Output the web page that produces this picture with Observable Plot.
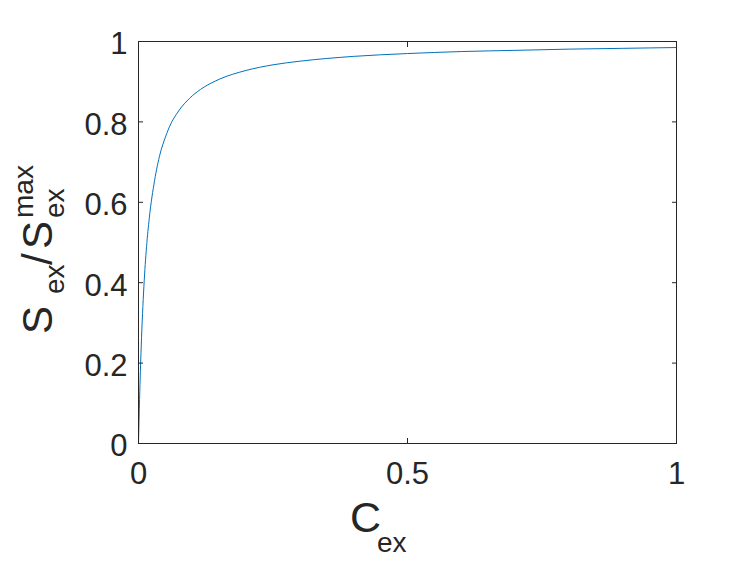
<!DOCTYPE html>
<html><head><meta charset="utf-8">
<script src="https://cdn.jsdelivr.net/npm/d3@7"></script>
<script src="https://cdn.jsdelivr.net/npm/@observablehq/plot@0.6"></script>
<style>html,body{margin:0;padding:0;background:#fff}#chart svg{display:block}</style>
</head><body><div id="chart"></div>
<script>
// Values
const cex    = [0, 0.002, 0.005, 0.01, 0.015, 0.02, 0.03, 0.04, 0.05, 0.06, 0.07, 0.08, 0.09, 0.1, 0.12, 0.15, 0.2, 0.25, 0.3, 0.4, 0.5, 0.6, 0.7, 0.8, 0.9, 1.0];
const sRatio = [0, 0.11, 0.24, 0.39, 0.49, 0.56, 0.655, 0.72, 0.762, 0.795, 0.818, 0.837, 0.852, 0.865, 0.885, 0.906, 0.928, 0.942, 0.951, 0.963, 0.970, 0.975, 0.978, 0.981, 0.983, 0.985];
const xTicks = [0, 0.5, 1];
const yTicks = [0, 0.2, 0.4, 0.6, 0.8, 1];

const data = cex.map((c, i) => ({c, s: sRatio[i]}));
const axisColor = "#262626";
const font = '"Liberation Sans", Arial, Helvetica, sans-serif';

const plot = Plot.plot({
  width: 747, height: 561,
  marginLeft: 138, marginRight: 71, marginTop: 41, marginBottom: 118,
  style: {fontFamily: font, background: "#fff", color: axisColor, fontSize: "31px"},
  x: {domain: [0, 1]},
  y: {domain: [0, 1]},
  marks: [
    Plot.line(data, {x: "c", y: "s", stroke: "#0072BD", strokeWidth: 1, curve: "monotone-x"}),
    Plot.frame({stroke: axisColor, strokeWidth: 1}),
    Plot.axisX(xTicks, {anchor: "bottom", tickSize: -5, fill: "none", label: null, stroke: axisColor}),
    Plot.axisX(xTicks, {anchor: "top", tickSize: -5, fill: "none", label: null, stroke: axisColor}),
    Plot.axisY(yTicks, {anchor: "left", tickSize: -5, fill: "none", label: null, stroke: axisColor}),
    Plot.axisY(yTicks, {anchor: "right", tickSize: -5, fill: "none", label: null, stroke: axisColor}),
    Plot.axisX(xTicks, {anchor: "bottom", tickSize: 0, tickPadding: 18, label: null, fontSize: 31, fill: axisColor, stroke: "none", fontWeight: "normal", tickFormat: d => String(d)}),
    Plot.axisY(yTicks, {anchor: "left", tickSize: 0, tickPadding: 11, dy: 3, label: null, fontSize: 31, fill: axisColor, stroke: "none", fontWeight: "normal", tickFormat: d => String(d)})
  ]
});
document.getElementById("chart").appendChild(plot);
d3.select(plot).selectAll("text").attr("font-variant", "normal").style("font-variant", "normal");

// Axis titles with subscripts / superscripts
const svg = d3.select(plot);
const g = svg.append("g").attr("fill", axisColor).attr("font-family", font);
function label(str, x, y, size, rotate) {
  g.append("text")
    .attr("transform", `translate(${x},${y})` + (rotate ? " rotate(-90)" : ""))
    .attr("font-size", size)
    .attr("text-anchor", "start")
    .text(str);
}
// x label: C_ex
label("C", 350, 532, 43, false);
label("ex", 377, 552, 28, false);
// y label: S_ex / S_ex^max
label("S", 52, 334, 42, true);
label("ex", 64, 294, 28, true);
label("/", 52, 265, 42, true);
label("S", 52, 249, 42, true);
label("ex", 64, 218, 28, true);
label("max", 33, 218, 28, true);
</script>
</body></html>
